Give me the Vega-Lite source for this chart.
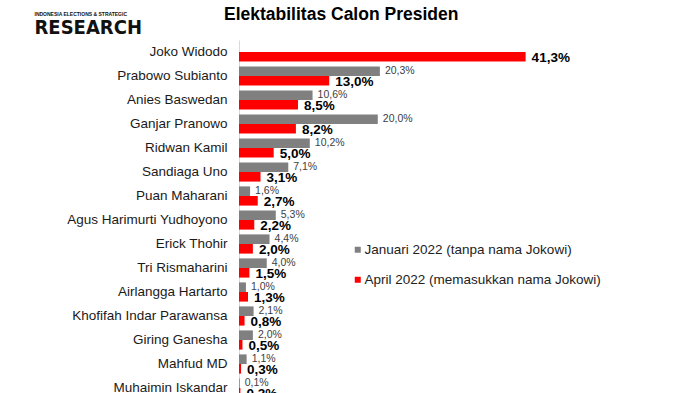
{
  "$schema": "https://vega.github.io/schema/vega-lite/v6.json",
  "autosize": {"type": "none"},
  "padding": {"left": 239, "top": 40, "right": 114, "bottom": 0},
  "width": 347,
  "height": 360,
  "title": {"text": "Elektabilitas Calon Presiden", "anchor": "start", "frame": "group", "dx": -15, "dy": 26, "offset": 0, "baseline": "alphabetic", "font": "Liberation Sans", "fontSize": 17.5, "fontWeight": "bold", "color": "#000000"},
  "data": {"values": [
    {"name": "Joko Widodo", "series": "April 2022 (memasukkan nama Jokowi)", "value": 41.3},
    {"name": "Prabowo Subianto", "series": "Januari 2022 (tanpa nama Jokowi)", "value": 20.3},
    {"name": "Prabowo Subianto", "series": "April 2022 (memasukkan nama Jokowi)", "value": 13.0},
    {"name": "Anies Baswedan", "series": "Januari 2022 (tanpa nama Jokowi)", "value": 10.6},
    {"name": "Anies Baswedan", "series": "April 2022 (memasukkan nama Jokowi)", "value": 8.5},
    {"name": "Ganjar Pranowo", "series": "Januari 2022 (tanpa nama Jokowi)", "value": 20.0},
    {"name": "Ganjar Pranowo", "series": "April 2022 (memasukkan nama Jokowi)", "value": 8.2},
    {"name": "Ridwan Kamil", "series": "Januari 2022 (tanpa nama Jokowi)", "value": 10.2},
    {"name": "Ridwan Kamil", "series": "April 2022 (memasukkan nama Jokowi)", "value": 5.0},
    {"name": "Sandiaga Uno", "series": "Januari 2022 (tanpa nama Jokowi)", "value": 7.1},
    {"name": "Sandiaga Uno", "series": "April 2022 (memasukkan nama Jokowi)", "value": 3.1},
    {"name": "Puan Maharani", "series": "Januari 2022 (tanpa nama Jokowi)", "value": 1.6},
    {"name": "Puan Maharani", "series": "April 2022 (memasukkan nama Jokowi)", "value": 2.7},
    {"name": "Agus Harimurti Yudhoyono", "series": "Januari 2022 (tanpa nama Jokowi)", "value": 5.3},
    {"name": "Agus Harimurti Yudhoyono", "series": "April 2022 (memasukkan nama Jokowi)", "value": 2.2},
    {"name": "Erick Thohir", "series": "Januari 2022 (tanpa nama Jokowi)", "value": 4.4},
    {"name": "Erick Thohir", "series": "April 2022 (memasukkan nama Jokowi)", "value": 2.0},
    {"name": "Tri Rismaharini", "series": "Januari 2022 (tanpa nama Jokowi)", "value": 4.0},
    {"name": "Tri Rismaharini", "series": "April 2022 (memasukkan nama Jokowi)", "value": 1.5},
    {"name": "Airlangga Hartarto", "series": "Januari 2022 (tanpa nama Jokowi)", "value": 1.0},
    {"name": "Airlangga Hartarto", "series": "April 2022 (memasukkan nama Jokowi)", "value": 1.3},
    {"name": "Khofifah Indar Parawansa", "series": "Januari 2022 (tanpa nama Jokowi)", "value": 2.1},
    {"name": "Khofifah Indar Parawansa", "series": "April 2022 (memasukkan nama Jokowi)", "value": 0.8},
    {"name": "Giring Ganesha", "series": "Januari 2022 (tanpa nama Jokowi)", "value": 2.0},
    {"name": "Giring Ganesha", "series": "April 2022 (memasukkan nama Jokowi)", "value": 0.5},
    {"name": "Mahfud MD", "series": "Januari 2022 (tanpa nama Jokowi)", "value": 1.1},
    {"name": "Mahfud MD", "series": "April 2022 (memasukkan nama Jokowi)", "value": 0.3},
    {"name": "Muhaimin Iskandar", "series": "Januari 2022 (tanpa nama Jokowi)", "value": 0.1},
    {"name": "Muhaimin Iskandar", "series": "April 2022 (memasukkan nama Jokowi)", "value": 0.2}
  ]},
  "transform": [{"calculate": "replace(format(datum.value, '.1f'), '.', ',') + '%'", "as": "label"}],
  "encoding": {
    "y": {
      "field": "name", "type": "nominal", "sort": null,
      "scale": {"paddingInner": 0.2, "paddingOuter": 0.1},
      "axis": {
        "ticks": false, "labelPadding": 12, "labelFontSize": 13.5, "labelColor": "#1a1a1a", "labelFont": "Liberation Sans",
        "domain": true, "domainColor": "#d9d9d9", "domainWidth": 1, "grid": false,
        "title": "RESEARCH", "titleAngle": 0, "titleX": -205, "titleY": -7, "titleAlign": "left", "titleBaseline": "alphabetic",
        "titleFont": "DejaVu Sans Condensed", "titleFontSize": 20, "titleFontWeight": "bold", "titleColor": "#111111"
      }
    },
    "yOffset": {
      "field": "series", "type": "nominal",
      "sort": ["Januari 2022 (tanpa nama Jokowi)", "April 2022 (memasukkan nama Jokowi)"],
      "scale": {"domain": ["Januari 2022 (tanpa nama Jokowi)", "April 2022 (memasukkan nama Jokowi)"], "paddingInner": 0, "paddingOuter": 0}
    },
    "x": {
      "field": "value", "type": "quantitative",
      "scale": {"domain": [0, 50]},
      "axis": {
        "orient": "top", "labels": false, "ticks": false, "domain": false, "grid": false,
        "title": "INDONESIA ELECTIONS & STRATEGIC", "titleX": -205, "titleY": -25, "titleAlign": "left", "titleBaseline": "alphabetic",
        "titleFontSize": 5, "titleFontWeight": "bold", "titleColor": "#111111", "titleFont": "Liberation Sans"
      }
    }
  },
  "layer": [
    {
      "mark": {"type": "bar"},
      "encoding": {
        "color": {
          "field": "series", "type": "nominal",
          "scale": {"domain": ["Januari 2022 (tanpa nama Jokowi)", "April 2022 (memasukkan nama Jokowi)"], "range": ["#808080", "#ff0000"]},
          "legend": {
            "orient": "none", "legendX": 112, "legendY": 203, "title": null,
            "symbolType": "square", "symbolSize": 36, "symbolStrokeWidth": 0,
            "labelFontSize": 13.5, "labelColor": "#222222", "labelFont": "Liberation Sans", "labelLimit": 0,
            "rowPadding": 15, "labelOffset": 0
          }
        }
      }
    },
    {
      "transform": [{"filter": "datum.series == 'Januari 2022 (tanpa nama Jokowi)'"}],
      "mark": {"type": "text", "align": "left", "baseline": "middle", "dx": 5, "fontSize": 10.5, "color": "#404040", "font": "Liberation Sans"},
      "encoding": {"text": {"field": "label", "type": "nominal"}}
    },
    {
      "transform": [{"filter": "datum.series == 'April 2022 (memasukkan nama Jokowi)'"}],
      "mark": {"type": "text", "align": "left", "baseline": "middle", "dx": 6, "dy": 1, "fontSize": 13.5, "fontWeight": "bold", "color": "#000000", "font": "Liberation Sans"},
      "encoding": {"text": {"field": "label", "type": "nominal"}}
    }
  ],
  "config": {"view": {"stroke": null}, "font": "Liberation Sans"}
}
